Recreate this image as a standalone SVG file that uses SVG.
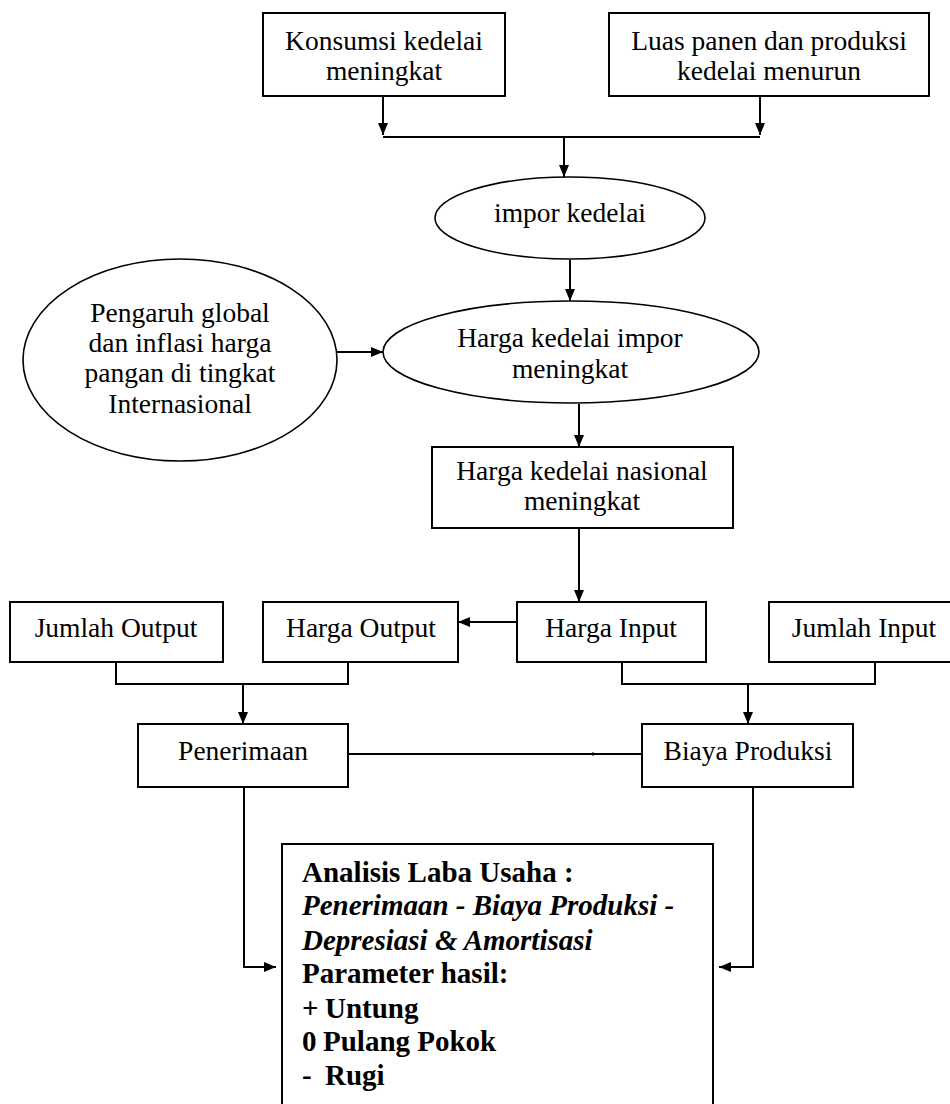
<svg xmlns="http://www.w3.org/2000/svg" width="950" height="1104" viewBox="0 0 950 1104">
<style>
.n{fill:#fff;stroke:#000;stroke-width:2}
.e{fill:#fff;stroke:#000;stroke-width:1.6}
.t{font-family:"Liberation Serif","Times New Roman",serif;font-size:27.5px;fill:#000;text-anchor:middle}
.b{font-family:"Liberation Serif","Times New Roman",serif;font-size:29px;font-weight:bold;fill:#000}
.bi{font-style:italic}
.c{fill:none;stroke:#000;stroke-width:2}
</style>
<defs>
<marker id="a" viewBox="0 0 12 10" refX="12" refY="5" markerWidth="12" markerHeight="10" markerUnits="userSpaceOnUse" orient="auto">
<path d="M0,0 L12,5 L0,10 z" fill="#000"/>
</marker>
</defs>
<rect width="950" height="1104" fill="#fff"/>
<g id="connectors">
<path class="c" d="M383,96 V135" marker-end="url(#a)"/>
<path class="c" d="M760,96 V135" marker-end="url(#a)"/>
<path class="c" d="M383,137 H760"/>
<path class="c" d="M564,137 V177" marker-end="url(#a)"/>
<path class="c" d="M570,260 V301" marker-end="url(#a)"/>
<path class="c" d="M337,352 H383" marker-end="url(#a)"/>
<path class="c" d="M579,404 V447" marker-end="url(#a)"/>
<path class="c" d="M579,528 V602" marker-end="url(#a)"/>
<path class="c" d="M517,622 H458" marker-end="url(#a)"/>
<path class="c" d="M116,662 V684 H348 V662"/>
<path class="c" d="M243,684 V724" marker-end="url(#a)"/>
<path class="c" d="M622,662 V684 H875 V662"/>
<path class="c" d="M748,684 V724" marker-end="url(#a)"/>
<path class="c" d="M348,754 H642"/>
<path d="M593,752 V756" stroke="#000" stroke-width="1"/>
<path class="c" d="M244,787 V967 H276" marker-end="url(#a)"/>
<path class="c" d="M753,787 V967 H719" marker-end="url(#a)"/>
</g>
<g id="konsumsi">
<rect class="n" x="263" y="13" width="242" height="83"/>
<text class="t" x="384" y="50">Konsumsi kedelai</text>
<text class="t" x="384" y="80">meningkat</text>
</g>
<g id="luas-panen">
<rect class="n" x="609" y="13" width="320" height="83"/>
<text class="t" x="769" y="50">Luas panen dan produksi</text>
<text class="t" x="769" y="80">kedelai menurun</text>
</g>
<g id="impor">
<ellipse class="e" cx="570" cy="218" rx="135" ry="41"/>
<text class="t" x="570" y="222">impor kedelai</text>
</g>
<g id="harga-impor">
<ellipse class="e" cx="571" cy="352" rx="188" ry="51"/>
<text class="t" x="570" y="347">Harga kedelai impor</text>
<text class="t" x="570" y="378">meningkat</text>
</g>
<g id="pengaruh-global">
<ellipse class="e" cx="180" cy="360" rx="157" ry="101"/>
<text class="t" x="180" y="322">Pengaruh global</text>
<text class="t" x="180" y="352">dan inflasi harga</text>
<text class="t" x="180" y="382">pangan di tingkat</text>
<text class="t" x="180" y="413">Internasional</text>
</g>
<g id="harga-nasional">
<rect class="n" x="432" y="447" width="301" height="81"/>
<text class="t" x="582" y="480">Harga kedelai nasional</text>
<text class="t" x="582" y="510">meningkat</text>
</g>
<g id="jumlah-output">
<rect class="n" x="10" y="602" width="213" height="60"/>
<text class="t" x="116" y="637">Jumlah Output</text>
</g>
<g id="harga-output">
<rect class="n" x="263" y="602" width="195" height="60"/>
<text class="t" x="361" y="637">Harga Output</text>
</g>
<g id="harga-input">
<rect class="n" x="517" y="602" width="189" height="60"/>
<text class="t" x="611" y="637">Harga Input</text>
</g>
<g id="jumlah-input">
<rect class="n" x="769" y="602" width="200" height="60"/>
<text class="t" x="864" y="637">Jumlah Input</text>
</g>
<g id="penerimaan">
<rect class="n" x="138" y="724" width="210" height="63"/>
<text class="t" x="243" y="760">Penerimaan</text>
</g>
<g id="biaya-produksi">
<rect class="n" x="642" y="724" width="211" height="63"/>
<text class="t" x="748" y="760">Biaya Produksi</text>
</g>
<g id="analisis">
<rect class="n" x="282" y="844" width="431" height="280"/>
<text class="b" x="302" y="882">Analisis Laba Usaha :</text>
<text class="b bi" x="302" y="915">Penerimaan - Biaya Produksi -</text>
<text class="b bi" x="302" y="950">Depresiasi &amp; Amortisasi</text>
<text class="b" x="302" y="983">Parameter hasil:</text>
<text class="b" x="302" y="1018">+</text><text class="b" x="325" y="1018">Untung</text>
<text class="b" x="302" y="1051">0</text><text class="b" x="323" y="1051">Pulang Pokok</text>
<text class="b" x="302" y="1085">-</text><text class="b" x="325" y="1085">Rugi</text>
</g>
</svg>
